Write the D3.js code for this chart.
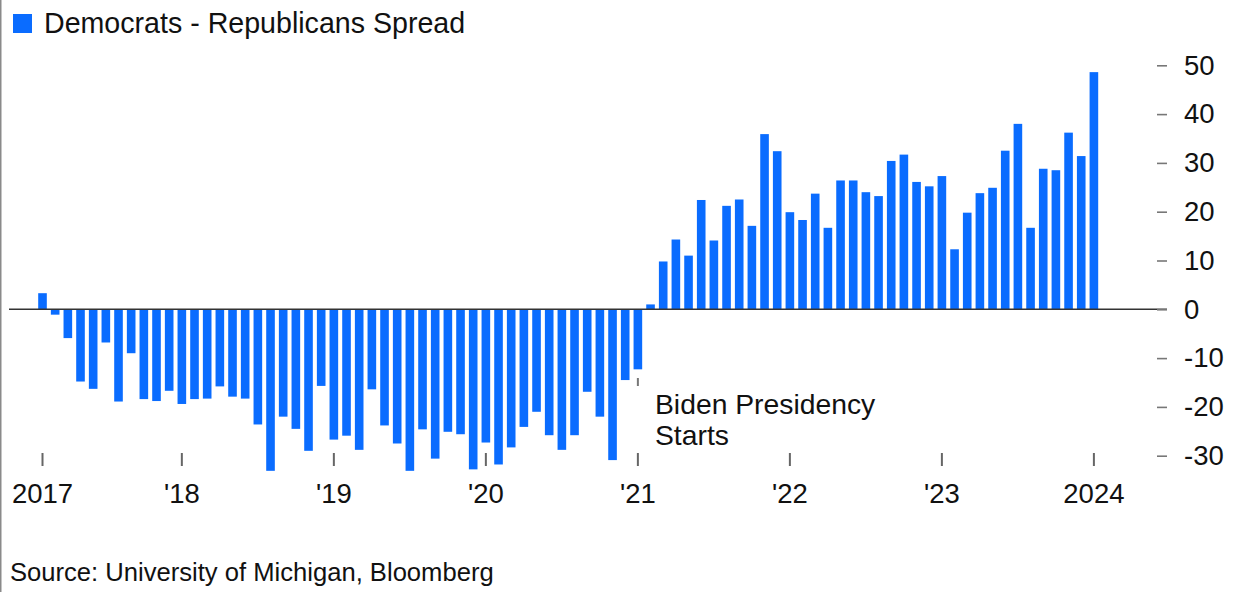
<!DOCTYPE html>
<html>
<head>
<meta charset="utf-8">
<script src="https://cdn.jsdelivr.net/npm/d3@7"></script>
<style>
  html, body { margin: 0; padding: 0; background: #fff; }
  svg { display: block; font-family: "Liberation Sans", Arial, Helvetica, sans-serif; }
</style>
</head>
<body>
<svg id="chart" width="1245" height="592"></svg>
<script>
// Democrats minus Republicans consumer sentiment spread, monthly, Feb 2017 – Jan 2024
const spread2017 = [3.3, -1.1, -5.9, -14.8, -16.3, -6.8, -18.9, -9.0, -18.4, -18.8, -16.7];          // Feb–Dec
const spread2018 = [-19.4, -18.4, -18.3, -15.8, -17.9, -18.3, -23.6, -33.1, -22.0, -24.5, -29.0, -15.7];
const spread2019 = [-26.7, -25.9, -28.8, -16.4, -23.8, -27.5, -33.1, -24.6, -30.6, -25.1, -25.6, -32.8];
const spread2020 = [-27.3, -31.8, -28.3, -24.1, -21.0, -25.8, -28.8, -25.8, -16.9, -22.0, -30.9, -14.5];
const spread2021 = [-12.3, 1.0, 9.8, 14.3, 11.0, 22.4, 14.1, 21.2, 22.5, 17.1, 35.9, 32.4];
const spread2022 = [19.9, 18.3, 23.7, 16.7, 26.4, 26.4, 24.0, 23.2, 30.4, 31.7, 26.1, 25.2];
const spread2023 = [27.3, 12.3, 19.8, 23.8, 24.9, 32.5, 38.0, 16.7, 28.8, 28.5, 36.2, 31.4];
const spread2024 = [48.6];                                                                           // Jan

const spreadValues = [].concat(spread2017, spread2018, spread2019, spread2020,
                               spread2021, spread2022, spread2023, spread2024);

// Month keys "YYYY-MM", one per value, starting Feb 2017
const fmtKey = d3.timeFormat("%Y-%m");
const months = d3.timeMonths(new Date(2017, 1, 1), new Date(2024, 1, 1)).map(fmtKey);

const xTickMonths = ["2017-02", "2018-01", "2019-01", "2020-01", "2021-01", "2022-01", "2023-01", "2024-01"];
const xTickLabels = ["2017", "'18", "'19", "'20", "'21", "'22", "'23", "2024"];
const yTicks = [-30, -20, -10, 0, 10, 20, 30, 40, 50];

const data = months.map((m, i) => ({ month: m, value: spreadValues[i] }));

const BLUE = "#0a6cff";
const svg = d3.select("#chart");

// Scales
const pad = 0.32;
const x = d3.scaleBand()
  .domain(months)
  .range([36.17, 1100.23])
  .paddingInner(pad)
  .paddingOuter(pad / 2);

const y = d3.scaleLinear()
  .domain([-30, 50])
  .range([455.7, 65.3]);

// Frame edge on the left
svg.append("line")
  .attr("x1", 0.75).attr("x2", 0.75)
  .attr("y1", 0).attr("y2", 592)
  .attr("stroke", "#8a8a8a").attr("stroke-width", 1.5);

// Legend / title
svg.append("rect")
  .attr("x", 13).attr("y", 14)
  .attr("width", 19).attr("height", 19)
  .attr("fill", BLUE);
svg.append("text")
  .attr("x", 44).attr("y", 33)
  .attr("font-size", 28.6)
  .attr("fill", "#111")
  .text("Democrats - Republicans Spread");

// Bars
svg.append("g")
  .selectAll("rect")
  .data(data)
  .join("rect")
  .attr("x", d => x(d.month))
  .attr("width", x.bandwidth())
  .attr("y", d => y(Math.max(0, d.value)))
  .attr("height", d => Math.abs(y(d.value) - y(0)))
  .attr("fill", BLUE);

// Zero line
svg.append("line")
  .attr("x1", 9).attr("x2", 1167)
  .attr("y1", y(0)).attr("y2", y(0))
  .attr("stroke", "#333").attr("stroke-width", 1.6);

// Right-hand value axis
const yAxis = d3.axisRight(y)
  .tickValues(yTicks)
  .tickSize(10)
  .tickPadding(17)
  .tickFormat(d => String(d));

const gy = svg.append("g")
  .attr("transform", "translate(1157,0)")
  .call(yAxis);
gy.select(".domain").remove();
gy.selectAll(".tick line").attr("stroke", "#777").attr("stroke-width", 1.6);
gy.selectAll(".tick text")
  .attr("font-size", 27.5)
  .attr("font-family", "Liberation Sans, Arial, sans-serif")
  .attr("fill", "#111");

// Bottom time axis
const xAxis = d3.axisBottom(x)
  .tickValues(xTickMonths)
  .tickSize(13)
  .tickPadding(17)
  .tickFormat(m => xTickLabels[xTickMonths.indexOf(m)]);

const gx = svg.append("g")
  .attr("transform", "translate(0,453)")
  .call(xAxis);
gx.select(".domain").remove();
gx.selectAll(".tick line").attr("stroke", "#666").attr("stroke-width", 2);
gx.selectAll(".tick text")
  .attr("font-size", 27.5)
  .attr("font-family", "Liberation Sans, Arial, sans-serif")
  .attr("fill", "#111");

// Annotation for January 2021
const annX = x("2021-01") + x.bandwidth() / 2;
svg.append("line")
  .attr("x1", annX).attr("x2", annX)
  .attr("y1", 378).attr("y2", 386)
  .attr("stroke", "#777").attr("stroke-width", 2);
const ann = svg.append("text")
  .attr("x", 655).attr("y", 414)
  .attr("font-size", 28.3)
  .attr("fill", "#111");
ann.append("tspan").attr("x", 655).attr("y", 414).text("Biden Presidency");
ann.append("tspan").attr("x", 655).attr("y", 445).text("Starts");

// Source line
svg.append("text")
  .attr("x", 10).attr("y", 581)
  .attr("font-size", 25.6)
  .attr("fill", "#111")
  .text("Source: University of Michigan, Bloomberg");
</script>
</body>
</html>
